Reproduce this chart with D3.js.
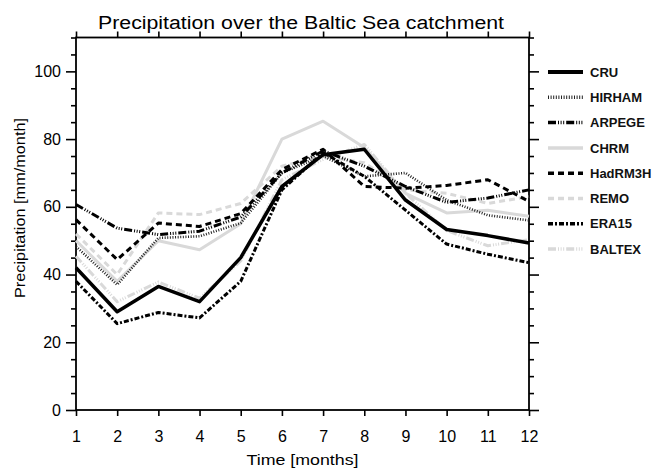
<!DOCTYPE html>
<html>
<head>
<meta charset="utf-8">
<script src="https://cdn.jsdelivr.net/npm/d3@7"></script>
<style>
  html, body { margin: 0; padding: 0; background: #fff; }
  svg { display: block; font-family: "Liberation Sans", Arial, sans-serif; }
</style>
</head>
<body>
<svg id="chart" width="661" height="469"></svg>
<script>
// ---- data ----
const months = [1, 2, 3, 4, 5, 6, 7, 8, 9, 10, 11, 12];
const CRU     = [42, 29, 36.5, 32, 45, 66, 75.4, 77, 62, 53.3, 51.5, 49.3];
const HIRHAM  = [48.3, 37, 50.8, 51.3, 55.2, 70, 75, 69, 70, 62, 57.5, 56];
const ARPEGE  = [60.7, 53.7, 51.8, 52.8, 57, 70, 76.5, 72, 66, 61.3, 62.6, 65];
const CHRM    = [50, 38, 50, 47.3, 55, 80, 85.3, 77.5, 64, 58.2, 59, 57.2];
const HadRM3H = [56.2, 44.4, 55.2, 54.2, 58, 71, 77, 66, 65.5, 66.3, 68, 61.6];
const REMO    = [52, 40, 58.2, 57.7, 61, 72, 75, 73, 65, 64, 61, 63];
const ERA15   = [38, 25.5, 28.8, 27.2, 38, 65, 76, 69, 59, 49, 46, 43.5];
const BALTEX  = [45.4, 32, 37.8, 33, 44, 68, 74, 78.4, 64, 53, 48.5, 50.3];
const seriesNames = ["CRU", "HIRHAM", "ARPEGE", "CHRM", "HadRM3H", "REMO", "ERA15", "BALTEX"];
const yTickLabels = [0, 20, 40, 60, 80, 100];
const title = "Precipitation over the Baltic Sea catchment";
const xTitle = "Time [months]";
const yTitle = "Precipitation [mm/month]";

// ---- styles ----
const GREY = "#d9d9d9";
const styles = {
  CRU:     { color: "#000", width: 3.5, dash: null },
  HIRHAM:  { color: "#222", width: 2.6, dash: "1,1.6" },
  ARPEGE:  { color: "#000", width: 3,   dash: "8,2,1,1.6,1,1.6,1,2" },
  CHRM:    { color: GREY,   width: 3,   dash: null },
  HadRM3H: { color: "#000", width: 3,   dash: "6,4" },
  REMO:    { color: GREY,   width: 3,   dash: "6,4" },
  ERA15:   { color: "#000", width: 3,   dash: "5,2,2,2" },
  BALTEX:  { color: GREY,   width: 3,   dash: "8,2,1,1.6,1,1.6,1,2" }
};
const seriesData = { CRU, HIRHAM, ARPEGE, CHRM, HadRM3H, REMO, ERA15, BALTEX };

const svg = d3.select("#chart");
const mLeft = 76, mRight = 529, mTop = 37.5, mBottom = 410;

const x = d3.scaleLinear().domain([1, 12]).range([mLeft, mRight]);
const y = d3.scaleLinear().domain([0, 110]).range([mBottom, mTop]);

// axes
const minorY = d3.range(0, 111, 5).filter(v => v % 20 !== 0);
function styleAxis(g) {
  g.select(".domain").remove();
  g.selectAll("line").attr("stroke", "#000").attr("stroke-width", 1.6);
  g.selectAll("text").attr("fill", "#000").attr("font-size", 16);
}
svg.append("g").attr("transform", `translate(${mLeft},0)`)
  .call(d3.axisLeft(y).tickValues(yTickLabels).tickSize(10).tickPadding(5)).call(styleAxis);
svg.append("g").attr("transform", `translate(${mLeft},0)`)
  .call(d3.axisLeft(y).tickValues(minorY).tickSize(5).tickFormat("")).call(styleAxis);
svg.append("g").attr("transform", `translate(${mRight},0)`)
  .call(d3.axisRight(y).tickValues(yTickLabels).tickSize(10).tickFormat("")).call(styleAxis);
svg.append("g").attr("transform", `translate(${mRight},0)`)
  .call(d3.axisRight(y).tickValues(minorY).tickSize(5).tickFormat("")).call(styleAxis);
svg.append("g").attr("transform", `translate(0,${mBottom})`)
  .call(d3.axisBottom(x).tickValues(months).tickSize(6).tickPadding(15).tickFormat(d3.format("d"))).call(styleAxis);
svg.append("g").attr("transform", `translate(0,${mTop})`)
  .call(d3.axisTop(x).tickValues(months).tickSize(6).tickFormat("")).call(styleAxis);

// frame
svg.append("rect").attr("x", mLeft).attr("y", mTop)
  .attr("width", mRight - mLeft).attr("height", mBottom - mTop)
  .attr("fill", "none").attr("stroke", "#000").attr("stroke-width", 1.8);

// lines (grey first so black on top)
const line = d3.line().x((d, i) => x(months[i])).y(d => y(d));
const drawOrder = ["CHRM", "REMO", "BALTEX", "HIRHAM", "HadRM3H", "ARPEGE", "ERA15", "CRU"];
drawOrder.forEach(name => {
  const s = styles[name];
  svg.append("path").datum(seriesData[name])
    .attr("d", line)
    .attr("fill", "none")
    .attr("stroke", s.color)
    .attr("stroke-width", s.width)
    .attr("stroke-linejoin", "round")
    .attr("stroke-dasharray", s.dash);
});

// legend
const leg = svg.append("g");
seriesNames.forEach((name, i) => {
  const s = styles[name];
  const ly = 72 + i * 25.3;
  leg.append("line").attr("x1", 548).attr("x2", 583).attr("y1", ly).attr("y2", ly)
    .attr("stroke", s.color).attr("stroke-width", name === "CRU" ? 4 : 3.5)
    .attr("stroke-dasharray", s.dash);
  leg.append("text").attr("x", 590).attr("y", ly).attr("dy", "0.36em")
    .attr("font-size", 13).attr("font-weight", 600).attr("fill", "#111").text(name);
});

// titles
svg.append("text").attr("x", 301).attr("y", 29).attr("text-anchor", "middle")
  .attr("font-size", 18).attr("textLength", 406).attr("lengthAdjust", "spacingAndGlyphs")
  .text(title);
svg.append("text").attr("x", 302.5).attr("y", 465).attr("text-anchor", "middle")
  .attr("font-size", 15.5).attr("textLength", 112).attr("lengthAdjust", "spacingAndGlyphs")
  .text(xTitle);
svg.append("text").attr("transform", "translate(25,208) rotate(-90)").attr("text-anchor", "middle")
  .attr("font-size", 15.5).attr("textLength", 180).attr("lengthAdjust", "spacingAndGlyphs")
  .text(yTitle);
</script>
</body>
</html>
